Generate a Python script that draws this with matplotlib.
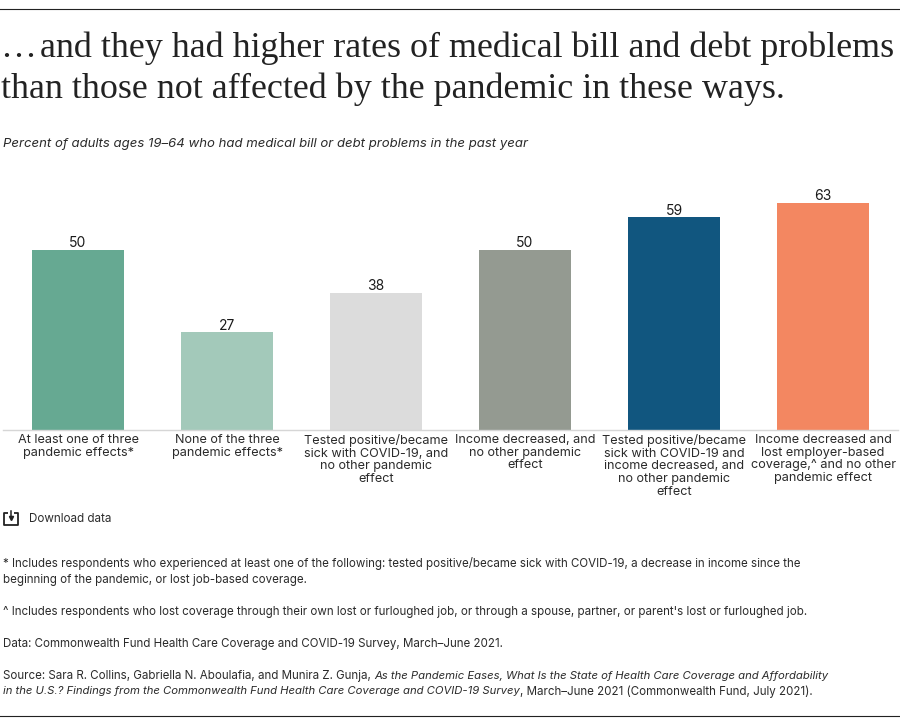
#!/usr/bin/env python
# encoding: utf-8
"""
plot.py - medical bill problems by pandemic effect, bar chart
"""
import numpy as np
import matplotlib
matplotlib.use("Agg")
import matplotlib.pyplot as plt

## Data
categories = [
    "At least one of three\npandemic effects*",
    "None of the three\npandemic effects*",
    "Tested positive/became\nsick with COVID-19, and\nno other pandemic\neffect",
    "Income decreased, and\nno other pandemic\neffect",
    "Tested positive/became\nsick with COVID-19 and\nincome decreased, and\nno other pandemic\neffect",
    "Income decreased and\nlost employer-based\ncoverage,^ and no other\npandemic effect",
]
values = [50, 27, 38, 50, 59, 63]
colors = ["#66a992", "#a3c9ba", "#dcdcdc", "#949a91", "#11567f", "#f38761"]

title_lines = [
    "\u2026\u200aand they had higher rates of medical bill and debt problems",
    "than those not affected by the pandemic in these ways.",
]
subtitle = "Percent of adults ages 19\u201364 who had medical bill or debt problems in the past year"
WIDTH, HEIGHT = 900, 720
BODY = "Inter"
TEXT = "#2b2b2b"
NOTE_SIZE = 8.32
ITALIC_SIZE = 8.15

fig = plt.figure(figsize=(WIDTH / 100, HEIGHT / 100), dpi=100)

# overlay in pixel coordinates for the text around the chart
page = fig.add_axes([0, 0, 1, 1])
page.set_xlim(0, WIDTH)
page.set_ylim(HEIGHT, 0)
page.axis("off")


def put_runs(x0, y, runs):
    """Write (text, style) pieces one after the other on a line."""
    renderer = fig.canvas.get_renderer()
    for txt, style in runs:
        size = ITALIC_SIZE if style == "italic" else NOTE_SIZE
        t = page.text(x0, y, txt, fontsize=size, family=BODY, style=style,
                      color=TEXT, va="center")
        x0 = t.get_window_extent(renderer).x1


## Chart axes
base_y = 429.5
top_y = 170
ax = fig.add_axes([3 / WIDTH, 1 - base_y / HEIGHT, 895 / WIDTH, (base_y - top_y) / HEIGHT])
x = np.arange(len(values))
ax.bar(x, values, width=92 / 149, color=colors)
ax.set_xlim((3 - 78) / 149, (898 - 78) / 149)
ax.set_ylim(0, (base_y - top_y) / 3.595)
for i, v in zip(x, values):
    ax.annotate(str(v), (i, v), xytext=(0, -0.3), textcoords="offset points",
                ha="center", va="bottom", fontsize=10, family=BODY, color="#1a1a1a")
ax.set_xticks(x)
ax.set_xticklabels(categories, fontsize=9.1, family=BODY, color=TEXT, linespacing=1.06)
ax.tick_params(axis="x", length=0, pad=3.5)
ax.set_yticks([])
for side in ["top", "left", "right"]:
    ax.spines[side].set_visible(False)
ax.spines["bottom"].set_color("#d6d6d6")
ax.spines["bottom"].set_linewidth(1.0)
ax.patch.set_alpha(0)

## Rules top and bottom
page.plot([0, WIDTH], [8.5, 8.5], color="#222222", lw=0.8)
page.plot([0, WIDTH], [716, 716], color="#222222", lw=0.8)

## Heading
page.text(1, 48, title_lines[0], fontsize=25.9, family="Liberation Serif", color="#222222", va="center")
page.text(1, 89, title_lines[1], fontsize=25.9, family="Liberation Serif", color="#222222", va="center")
page.text(3, 144, subtitle, fontsize=9.48, family=BODY, style="italic", color=TEXT, va="center")

## Download icon
icon = dict(color="#222222", lw=1.3, solid_capstyle="butt")
page.plot([7.5, 3.8, 3.8, 18, 18, 14.3], [512.5, 512.5, 524.5, 524.5, 512.5, 512.5], **icon)
page.plot([10.9, 10.9], [511, 517], color="#222222", lw=1.1)
page.plot([10.9], [517.5], marker="v", ms=3, color="#222222")
page.text(29, 519.5, "Download data", fontsize=8.4, family=BODY, color=TEXT, va="center")

## Notes
put_runs(3, 564, [("* Includes respondents who experienced at least one of the following: tested positive/became sick with COVID-19, a decrease in income since the", "normal")])
put_runs(3, 579.5, [("beginning of the pandemic, or lost job-based coverage.", "normal")])
put_runs(3, 612, [("^ Includes respondents who lost coverage through their own lost or furloughed job, or through a spouse, partner, or parent's lost or furloughed job.", "normal")])
put_runs(3, 644, [("Data: Commonwealth Fund Health Care Coverage and COVID-19 Survey, March\u2013June 2021.", "normal")])
put_runs(3, 676, [("Source: Sara R. Collins, Gabriella N. Aboulafia, and Munira Z. Gunja, ", "normal"),
                  ("As the Pandemic Eases, What Is the State of Health Care Coverage and Affordability", "italic")])
put_runs(3, 691.5, [("in the U.S.? Findings from the Commonwealth Fund Health Care Coverage and COVID-19 Survey", "italic"),
                    (", March\u2013June 2021 (Commonwealth Fund, July 2021).", "normal")])

fig.savefig("out.png", dpi=100)
